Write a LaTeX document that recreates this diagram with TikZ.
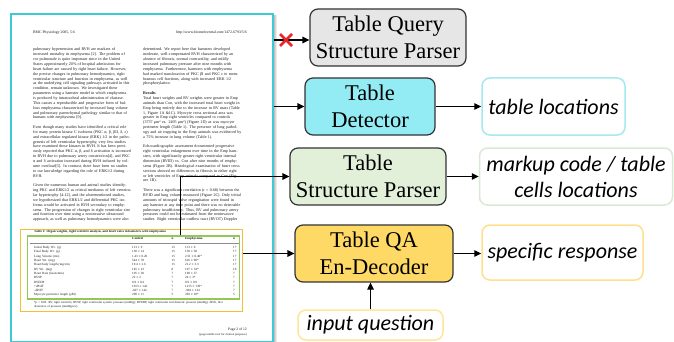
\documentclass[tikz,border=0pt]{standalone}
\usepackage{fontspec}
\setmainfont{Liberation Serif}
\newfontfamily\calibri{Carlito}
\usetikzlibrary{arrows.meta,calc}
\definecolor{pagec}{HTML}{3DC9D6}
\definecolor{qgray}{HTML}{E7E6E6}
\definecolor{detc}{HTML}{93EBF4}
\definecolor{tspc}{HTML}{E2F0D9}
\definecolor{qac}{HTML}{FFD966}
\definecolor{locc}{HTML}{A5E8F0}
\definecolor{mkc}{HTML}{D9EAD3}
\definecolor{src}{HTML}{FFE08F}
\definecolor{iqc}{HTML}{FFE699}
\definecolor{tyel}{HTML}{F2C037}
\definecolor{tgrn}{HTML}{92C853}
\definecolor{xred}{HTML}{E8262A}
\newlength\colw \setlength\colw{104pt}
\newlength\fnw \setlength\fnw{204pt}
\newcommand\J[1]{\makebox[\colw][s]{#1}}
\tikzset{
  mainbox/.style={draw=black!80, line width=1.2pt, rounded corners=8pt, inner sep=0pt, align=center, font=\fontsize{22.5}{27}\selectfont},
  outbox/.style={line width=1.5pt, rounded corners=8pt, inner sep=0pt, align=center, fill=white, font=\calibri\itshape\fontsize{22}{26}\selectfont},
  arr/.style={-{Triangle[length=7pt,width=6.5pt]}, line width=1.2pt, black},
  coltext/.style={inner sep=0pt, text width=106pt, align=left, text=black!90, font=\fontsize{4.05}{4.85}\selectfont},
  tabtext/.style={inner sep=0pt, text width=60pt, align=left, text=black!90, font=\fontsize{3.2}{4.3}\selectfont},
  smalltext/.style={inner sep=0pt, text=black!90},
}
\begin{document}
\begin{tikzpicture}[x=1pt,y=-1pt]
\useasboundingbox (0,0) rectangle (674,342);
\fill[white] (0,0) rectangle (674,342);
% page shadow
\fill[left color=black!40, right color=white] (272,16) rectangle (277,342);
% page
\node[draw=pagec, line width=2pt, fill=white, minimum width=262pt, minimum height=328pt, anchor=north west, inner sep=0pt] (page) at (9.5,13) {};
% header
\node[smalltext, anchor=base west, font=\fontsize{3.8}{4}\selectfont] (hdl) at (33,33.3) {BMC Physiology 2005, 5:6};
\node[smalltext, anchor=base east, font=\fontsize{3.8}{4}\selectfont] (hdr) at (247,33.3) {http://www.biomedcentral.com/1472-6793/5/6};
% left column
\node[coltext, anchor=base west] (lcol) at (33,51) {%
\J{pulmonary hypertension and RVH are markers of}\\
\J{increased mortality in emphysema [2]. The problem of}\\
\J{cor pulmonale is quite important since in the United}\\
\J{States approximately 20\% of hospital admissions for}\\
\J{heart failure are caused by right heart failure. However,}\\
\J{the precise changes in pulmonary hemodynamics, right}\\
\J{ventricular structure and function in emphysema, as well}\\
\J{as the underlying cell signaling pathways activated in this}\\
\J{condition, remain unknown. We investigated these}\\
\J{parameters using a hamster model in which emphysema}\\
\J{is produced by intratracheal administration of elastase.}\\
\J{This causes a reproducible and progressive form of bul-}\\
\J{lous emphysema characterized by increased lung volume}\\
\J{and pulmonary parenchymal pathology similar to that of}\\
humans with emphysema [9].\\
\mbox{}\\
\J{Even though many studies have identified a critical role}\\
\J{for many protein kinase C isoforms (PKC α, β, βII, δ, ε)}\\
\J{and extracellular regulated kinase (ERK) 1/2 in the patho-}\\
\J{genesis of left ventricular hypertrophy, very few studies}\\
\J{have examined these kinases in RVH. It has been previ-}\\
\J{ously reported that PKC α, β, and δ activation is increased}\\
\J{in RVH due to pulmonary artery constriction[4], and PKC}\\
\J{α and δ activation increased during RVH induced by vol-}\\
\J{ume overload[5]. In contrast, there have been no studies}\\
\J{to our knowledge regarding the role of ERK1/2 during}\\
RVH.\\
\mbox{}\\
\J{Given the numerous human and animal studies identify-}\\
\J{ing PKC and ERK1/2 as critical mediators of left ventricu-}\\
\J{lar hypertrophy [4-12], and the aforementioned studies,}\\
\J{we hypothesized that ERK1/2 and differential PKC iso-}\\
\J{forms would be activated in RVH secondary to emphy-}\\
\J{sema. The progression of changes in right ventricular size}\\
\J{and function over time using a noninvasive ultrasound}\\
\J{approach, as well as pulmonary hemodynamics were also}};
% right column
\node[coltext, anchor=base west] (rcol) at (143,51) {%
\J{determined. We report here that hamsters developed}\\
\J{moderate, well-compensated RVH characterized by an}\\
\J{absence of fibrosis, normal contractility, and mildly}\\
\J{increased pulmonary pressure after nine months with}\\
\J{emphysema. Furthermore, hamsters with emphysema}\\
\J{had marked translocation of PKC βI and PKC ε to mem-}\\
\J{branous cell fractions, along with increased ERK 1/2}\\
phosphorylation.\\
\mbox{}\\
\textbf{Results}\\
\J{Total heart weights and RV weights were greater in Emp}\\
\J{animals than Con, with the increased total heart weight in}\\
\J{Emp being entirely due to the increase in RV mass (Table}\\
\J{1, Figure 1A \&1C). Myocyte cross sectional area was}\\
\J{greater in Emp right ventricles compared to controls}\\
\J{(3737 μm² vs. 2495 μm²) (Figure 1D) as was myocyte}\\
\J{perimeter length (Table 1). The presence of lung pathol-}\\
\J{ogy and air trapping in the Emp animals was evidenced by}\\
a 75\% increase in lung volume (Table 1).\\
\mbox{}\\
\J{Echocardiographic assessment documented progressive}\\
\J{right ventricular enlargement over time in the Emp ham-}\\
\J{sters, with significantly greater right ventricular internal}\\
\J{dimension (RVID) vs. Con after nine months of emphy-}\\
\J{sema (Figure 2B). Histological examination of heart cross}\\
\J{sections showed no differences in fibrosis in either right}\\
\J{or left ventricles of Emp animals compared to Con (Fig-}\\
ure 1B).\\
\mbox{}\\
\J{There was a significant correlation (r = 0.68) between the}\\
\J{RVID and lung volume measured (Figure 2C). Only trivial}\\
\J{amounts of tricuspid valve regurgitation were found in}\\
\J{any hamster at any time point and there was no detectable}\\
\J{pulmonary insufficiency. Thus, RV and pulmonary artery}\\
\J{pressures could not be estimated from the noninvasive}\\
\J{studies. Right ventricular outflow tract (RVOT) Doppler}};
% table
\node[smalltext, anchor=base west, font=\bfseries\fontsize{3.3}{4}\selectfont] (tcap) at (34,232.2) {Table 1: Organ weights, right ventricle analysis, and heart rates in hamsters with emphysema};
\draw[black!45, line width=0.3pt] (30,235.8) -- (240,235.8);
\draw[black!45, line width=0.3pt] (30,242.7) -- (240,242.7);
\node[smalltext, anchor=base west, font=\bfseries\fontsize{3.3}{4}\selectfont] (thc) at (132,239.3) {Control};
\node[smalltext, anchor=base west, font=\bfseries\fontsize{3.3}{4}\selectfont] (thn) at (171.5,239.3) {n};
\node[smalltext, anchor=base west, font=\bfseries\fontsize{3.3}{4}\selectfont] (the) at (185,239.3) {Emphysema};
\node[smalltext, anchor=base west, font=\bfseries\fontsize{3.3}{4}\selectfont] (thm) at (233,239.3) {n};
\node[tabtext, anchor=base west] (tlab) at (34,248.6) {Initial Body Wt. (g)\\Final Body Wt. (g)\\Lung Volume (mL)\\Heart Wt. (mg)\\Heart/body length (mg/cm)\\RV Wt. (mg)\\Heart Rate (beats/min)\\RVSP\\RVEDP\\+dP/dT\\-dP/dT\\Myocyte perimeter length (μM)};
\node[tabtext, anchor=base west] (tcon) at (132,248.6) {113 ± 9\\130 ± 14\\1.43 ± 0.20\\544 ± 78\\19.4 ± 2.6\\145 ± 23\\195 ± 30\\22 ± 2\\0.9 ± 0.4\\1013 ± 142\\-827 ± 142\\290 ± 11};
\node[tabtext, anchor=base west, text width=8pt] (tn1) at (171.5,248.6) {15\\15\\15\\15\\15\\8\\7\\7\\7\\7\\7\\5};
\node[tabtext, anchor=base west, text width=30pt] (temp) at (185,248.6) {113 ± 6\\130 ± 38\\2.51 ± 0.40*\\616 ± 90*\\21.2 ± 3.3\\197 ± 34*\\190 ± 37\\24 ± 3*\\0.9 ± 0.9\\1215 ± 139*\\-994 ± 134\\303 ± 18*};
\node[tabtext, anchor=base west, text width=8pt] (tn2) at (233,248.6) {17\\17\\17\\17\\17\\10\\7\\7\\7\\7\\7\\5};
\node[tabtext, anchor=base west, text width=210pt, font=\fontsize{3.05}{4.4}\selectfont] (tfoot) at (34,303.5) {\makebox[\fnw][s]{*p < 0.05. RV, right ventricle; RVSP, right ventricular systolic pressure (mmHg); RVEDP, right ventricular end diastolic pressure (mmHg); dP/dt, first}\\derivative of pressure (mmHg/sec).};
\node[draw=tgrn, line width=1.3pt, minimum width=212pt, minimum height=63pt, anchor=north west, inner sep=0pt] (gtab) at (27,235.3) {};
\node[draw=tyel, line width=1.3pt, minimum width=221.5pt, minimum height=82pt, anchor=north west, inner sep=0pt] (ytab) at (20,229) {};
% page footer
\node[smalltext, anchor=base east, font=\fontsize{3.7}{4}\selectfont] (pg) at (247,330.3) {Page 2 of 12};
\node[smalltext, anchor=base east, font=\fontsize{3}{4}\selectfont] (pgn) at (247,335.2) {(page number not for citation purposes)};
% boxes
\node[mainbox, fill=qgray, minimum width=156pt, minimum height=57pt] (qsp) at (388,37.5) {Table Query\\Structure Parser};
\node[mainbox, fill=detc, minimum width=130pt, minimum height=57pt] (det) at (370,106.5) {Table\\Detector};
\node[mainbox, fill=tspc, minimum width=156pt, minimum height=57pt] (tsp) at (368,176.5) {Table\\Structure Parser};
\node[mainbox, fill=qac, minimum width=158pt, minimum height=57pt] (qa) at (374,253.5) {Table QA\\En-Decoder};
\node[outbox, draw=iqc, minimum width=145pt, minimum height=30pt] (iq) at (370.5,325) {input question};
\node[outbox, draw=locc, minimum width=143pt, minimum height=57pt] (loc) at (553.5,106.5) {table locations};
\node[outbox, draw=mkc, minimum width=193pt, minimum height=57pt] (mk) at (576,176.5) {markup code / table\\cells locations};
\node[outbox, draw=src, minimum width=161pt, minimum height=55pt] (sr) at (562.5,252.5) {specific response};
% connectors
\coordinate (xm) at (286,40);
\coordinate (tap) at (180.7,0);
\draw[arr] (page.east |- xm) -- (qsp.west |- xm);
\draw[xred, line width=2.6pt] (xm) ++(-6,-6) -- ++(12,12);
\draw[xred, line width=2.6pt] (xm) ++(-6,6) -- ++(12,-12);
\draw[arr] (page.east |- det.west) -- (det.west);
\draw[arr] (det.east) -- (loc.west);
\draw[arr] (gtab.north -| tap) |- (tsp.west);
\draw[arr] (tsp.east) -- (mk.west);
\draw[arr] (ytab.east |- qa.west) -- (qa.west);
\draw[arr] (qa.east) -- (sr.west |- qa.east);
\draw[arr] (iq.north) -- (iq.north |- qa.south);
\end{tikzpicture}
\end{document}
